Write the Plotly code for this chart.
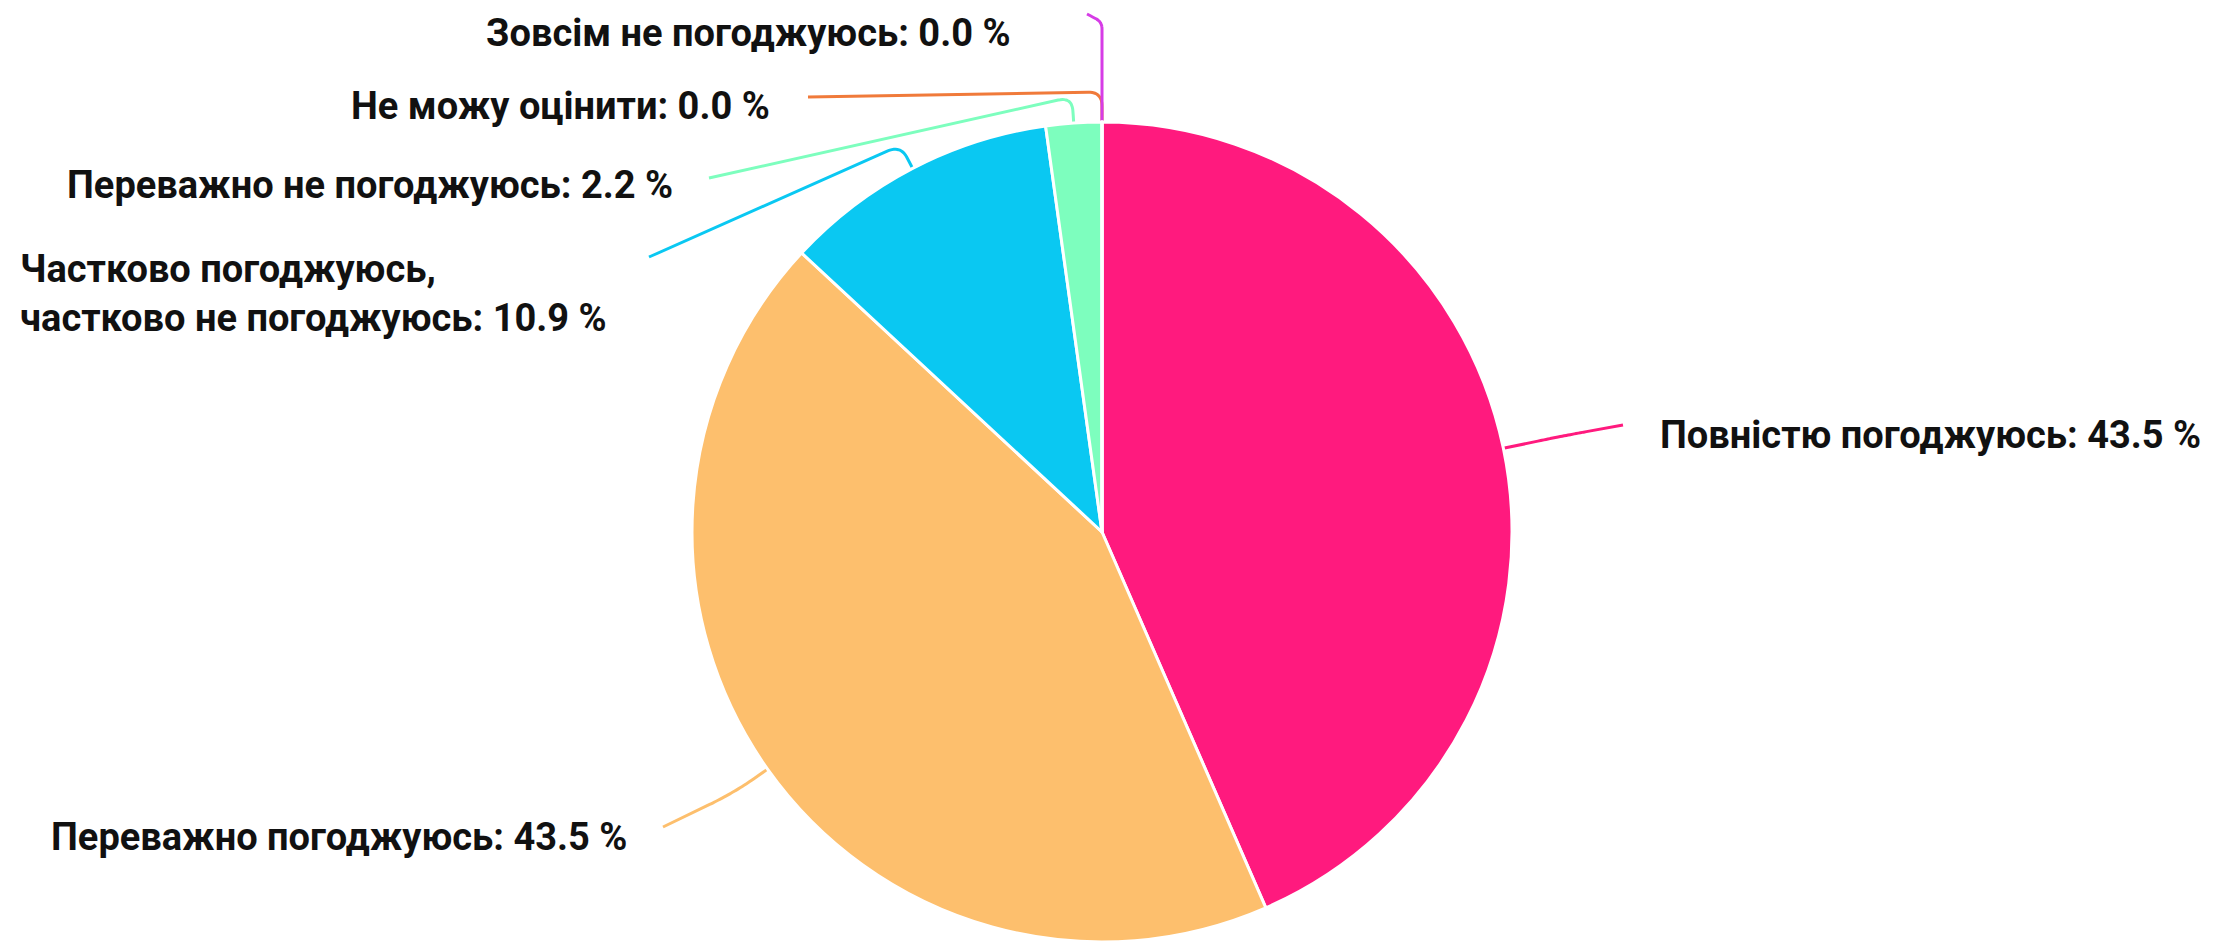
import math
import plotly.graph_objects as go

# ---- data ----
LABELS = ["Повністю погоджуюсь", "Переважно погоджуюсь",
          "Частково погоджуюсь,<br>частково не погоджуюсь",
          "Переважно не погоджуюсь", "Не можу оцінити", "Зовсім не погоджуюсь"]
VALUES = [43.5, 43.5, 10.9, 2.2, 0.0, 0.0]
COLORS = ["#FF1A7E", "#FDBF6D", "#0AC8F2", "#7DFEBE", "#F07A3A", "#D63CE6"]

# ---- layout constants (page pixels) ----
W, H = 2236, 946
OFF = 8  # page body margin
CX, CY, R = 1102, 532, 410
# label anchor: x, y, xanchor ; leader line end point ; corner distance / rounding
LABEL_POS = [(1658, 435, "left"), (629, 837, "right"), (18, 293, "left"),
             (675, 185, "right"), (772, 106, "right"), (1013, 33, "right")]
LINE_END = [(1623, 425), (663, 827), (649, 257), (709, 178), (808, 97), (1087, 14)]
CORNER = [60, 40, 26, 26, 30, 100]
ROUND = [40, 30, 14, 14, 14, 14]
FONT = dict(family="Roboto", size=38, color="#111111", weight="bold")

fig = go.Figure()
fig.add_trace(go.Pie(
    labels=LABELS, values=VALUES, sort=False, direction="clockwise", rotation=0,
    marker=dict(colors=COLORS, line=dict(color="white", width=3)),
    textinfo="none", hoverinfo="label+percent", showlegend=False,
    domain=dict(x=[(CX - OFF - R) / W, (CX - OFF + R) / W],
                y=[1 - (CY - OFF + R) / H, 1 - (CY - OFF - R) / H]),
))

total = sum(VALUES)
cum = 0.0
for i, v in enumerate(VALUES):
    mid = (cum + v / 2) / total * 2 * math.pi
    cum += v
    ux, uy = math.sin(mid), -math.cos(mid)
    p0 = (CX + R * ux, CY + R * uy)
    c = (p0[0] + CORNER[i] * ux, p0[1] + CORNER[i] * uy)
    end = LINE_END[i]
    dx, dy = end[0] - c[0], end[1] - c[1]
    L = math.hypot(dx, dy)
    rr = min(ROUND[i], CORNER[i] * 0.7, L * 0.4)
    a = (c[0] - rr * ux, c[1] - rr * uy)
    b = (c[0] + rr * dx / L, c[1] + rr * dy / L)
    xs, ys = [p0[0]], [p0[1]]
    for k in range(0, 13):
        t = k / 12
        xs.append((1 - t) ** 2 * a[0] + 2 * t * (1 - t) * c[0] + t ** 2 * b[0])
        ys.append((1 - t) ** 2 * a[1] + 2 * t * (1 - t) * c[1] + t ** 2 * b[1])
    xs.append(end[0]); ys.append(end[1])
    fig.add_trace(go.Scatter(x=xs, y=ys, mode="lines", line=dict(color=COLORS[i], width=3, shape="spline"),
                             hoverinfo="skip", showlegend=False))
    lx, ly, anc = LABEL_POS[i]
    fig.add_annotation(x=lx, y=ly, xref="x", yref="y", xanchor=anc, yanchor="middle",
                       text=f"{LABELS[i]}: {v:.1f} %", showarrow=False, align="left", font=FONT)

fig.update_layout(
    width=W, height=H, margin=dict(l=0, r=0, t=0, b=0),
    paper_bgcolor="white", plot_bgcolor="rgba(0,0,0,0)",
    xaxis=dict(range=[OFF, W + OFF], visible=False, fixedrange=True, domain=[0, 1]),
    yaxis=dict(range=[H + OFF, OFF], visible=False, fixedrange=True, domain=[0, 1]),
)
fig.write_html("out.html")
